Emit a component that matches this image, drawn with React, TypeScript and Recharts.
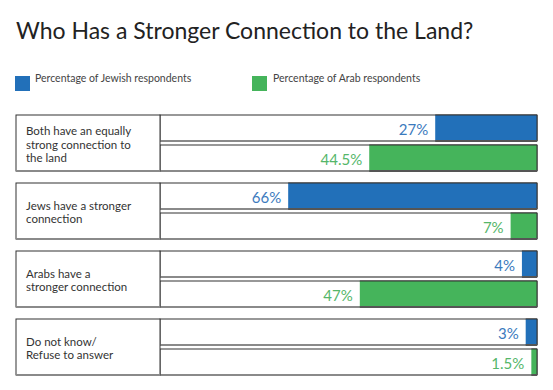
import React from "react";
import { BarChart, Bar, XAxis, YAxis, LabelList } from "recharts";

const categories = [
  ["Both have an equally", "strong connection to", "the land"],
  ["Jews have a stronger", "connection"],
  ["Arabs have a", "stronger connection"],
  ["Do not know/", "Refuse to answer"],
];
const jewishPct = [27, 66, 4, 3];
const arabPct = [44.5, 7, 47, 1.5];

const BLUE = "#2270b9";
const GREEN = "#45b45b";
const BLUE_TEXT = "#3b7abd";
const GREEN_TEXT = "#55b669";
const FONT = "Lato, 'Open Sans', sans-serif";

const data = categories.map((lines, i) => ({
  label: lines.join("\n"),
  jewish: jewishPct[i],
  arab: arabPct[i],
}));

const norm = (p: any) => {
  const x = Number(p.x) || 0;
  const w = Number(p.width) || 0;
  return { left: Math.min(x, x + w), w: Math.abs(w), y: Number(p.y) || 0, h: Number(p.height) || 0 };
};

const RowBackground = (p: any) => {
  const { left, w, y, h } = norm(p);
  return (
    <g>
      <rect x={left} y={y} width={w} height={h} fill="#fff" stroke="#333" strokeWidth={1} />
      <line x1={left} x2={left + w} y1={y + h} y2={y + h} stroke="#8a8a8a" strokeWidth={2} />
    </g>
  );
};

const RowBar = (p: any) => {
  const { left, w, y, h } = norm(p);
  if (w <= 0) return null;
  return (
    <g>
      <rect x={left} y={y} width={w} height={h} fill={p.fill} />
      <line x1={left} x2={left + w} y1={y} y2={y} stroke="#333" strokeWidth={1} />
      <line x1={left + w} x2={left + w} y1={y} y2={y + h} stroke="#333" strokeWidth={1} />
      <line x1={left} x2={left + w} y1={y + h} y2={y + h} stroke="#555" strokeWidth={2} />
    </g>
  );
};

const makeLabel = (color: string) => (p: any) => {
  const { left, y, h } = norm(p);
  return (
    <text
      x={left - 7}
      y={y + h / 2 + 1}
      textAnchor="end"
      dominantBaseline="central"
      fill={color}
      fontSize={15}
      fontFamily={FONT}
    >
      {p.value}%
    </text>
  );
};

const CategoryTick = (p: any) => {
  const lines = String(p.payload.value).split("\n");
  const y = p.y;
  const lh = 13.5;
  const start = y - ((lines.length - 1) * lh) / 2 + 1;
  return (
    <g>
      <rect x={16} y={y - 28} width={144} height={56} fill="#fff" stroke="#333" strokeWidth={1} />
      <line x1={16} x2={160} y1={y + 28} y2={y + 28} stroke="#8a8a8a" strokeWidth={2} />
      {lines.map((l, i) => (
        <text
          key={i}
          x={26}
          y={start + i * lh}
          dominantBaseline="central"
          fontSize={11.5}
          fontFamily={FONT}
          fill="#333"
        >
          {l}
        </text>
      ))}
    </g>
  );
};

export default function App() {
  return (
    <div style={{ position: "absolute", left: 0, top: 0, width: 553, height: 390, background: "#fff", fontFamily: FONT }}>
      <div style={{ position: "absolute", left: 16, top: 18, fontSize: 23, lineHeight: "24px", color: "#222", whiteSpace: "nowrap" }}>
        Who Has a Stronger Connection to the Land?
      </div>
      <div style={{ position: "absolute", left: 15, top: 76, width: 15, height: 15, background: BLUE }} />
      <div style={{ position: "absolute", left: 35, top: 71, fontSize: 10.5, lineHeight: "14px", color: "#444", whiteSpace: "nowrap" }}>
        Percentage of Jewish respondents
      </div>
      <div style={{ position: "absolute", left: 252, top: 76, width: 15, height: 15, background: GREEN }} />
      <div style={{ position: "absolute", left: 273, top: 71, fontSize: 10.5, lineHeight: "14px", color: "#444", whiteSpace: "nowrap" }}>
        Percentage of Arab respondents
      </div>
      <div style={{ position: "absolute", left: 0, top: 0 }}>
        <BarChart
          width={553}
          height={390}
          data={data}
          layout="vertical"
          margin={{ top: 109, right: 16, bottom: 9, left: 16 }}
          barGap={4}
        >
          <XAxis type="number" domain={[0, 100]} reversed hide />
          <YAxis
            type="category"
            dataKey="label"
            width={144}
            axisLine={false}
            tickLine={false}
            tick={CategoryTick}
            interval={0}
          />
          <Bar
            dataKey="jewish"
            fill={BLUE}
            barSize={26}
            background={RowBackground}
            shape={RowBar}
            isAnimationActive={false}
          >
            <LabelList dataKey="jewish" content={makeLabel(BLUE_TEXT)} />
          </Bar>
          <Bar
            dataKey="arab"
            fill={GREEN}
            barSize={26}
            background={RowBackground}
            shape={RowBar}
            isAnimationActive={false}
          >
            <LabelList dataKey="arab" content={makeLabel(GREEN_TEXT)} />
          </Bar>
        </BarChart>
      </div>
    </div>
  );
}
